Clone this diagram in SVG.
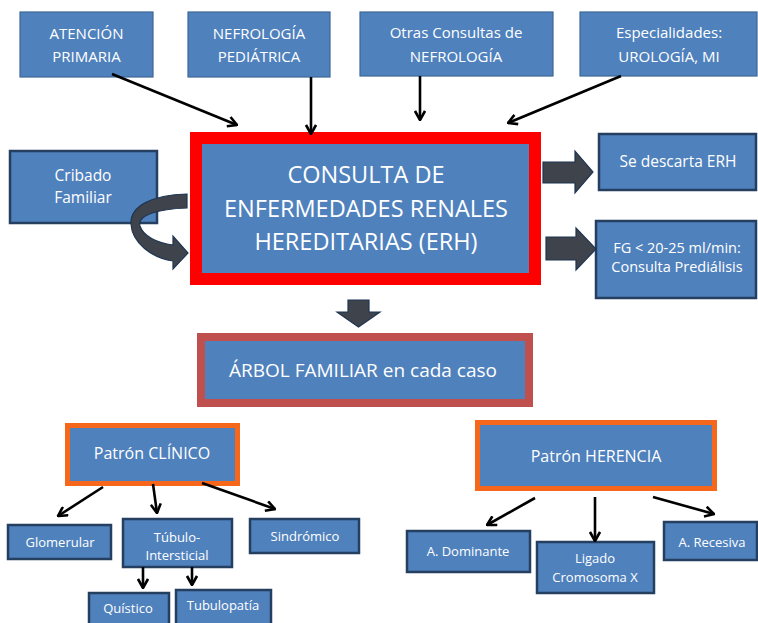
<svg xmlns="http://www.w3.org/2000/svg" width="758" height="623" viewBox="0 0 758 623">
<style>
.box{fill:#4f81bd;stroke:#3c6897;stroke-width:1.2}
.dbox{fill:#4f81bd;stroke:#243f60;stroke-width:2.5}
.t{font-family:"Open Sans","Noto Sans",sans-serif;fill:#ffffff;text-anchor:middle}
.ln{stroke:#000;stroke-width:2.6;fill:none;marker-end:url(#ah)}
.blk{fill:#3e434c;stroke:#1f3552;stroke-width:1.2}
</style>
<defs>
<marker id="ah" viewBox="0 0 12 12" refX="11" refY="6" markerWidth="12" markerHeight="12" orient="auto" markerUnits="userSpaceOnUse">
<path d="M2,1 L11,6 L2,11" fill="none" stroke="#000" stroke-width="2.6"/>
</marker>
</defs>
<rect width="758" height="623" fill="#fff"/>

<g id="n-atencion"><rect class="box" x="20" y="12" width="133" height="65"/>
<text class="t" font-size="15" x="86.5" y="39">ATENCIÓN</text><text class="t" font-size="15" x="86.5" y="62">PRIMARIA</text></g>
<g id="n-nefroped"><rect class="box" x="188" y="12" width="142" height="65"/>
<text class="t" font-size="15" x="259" y="39">NEFROLOGÍA</text><text class="t" font-size="15" x="259" y="62">PEDIÁTRICA</text></g>
<g id="n-otras"><rect class="box" x="360" y="12" width="193" height="64"/>
<text class="t" font-size="15" x="456" y="38">Otras Consultas de</text><text class="t" font-size="15" x="456" y="62">NEFROLOGÍA</text></g>
<g id="n-especialidades"><rect class="box" x="580" y="12" width="177" height="64"/>
<text class="t" font-size="15" x="669" y="38">Especialidades:</text><text class="t" font-size="15" x="669" y="62">UROLOGÍA, MI</text></g>

<g id="n-consulta"><rect x="196" y="138" width="339" height="141" fill="#4f81bd" stroke="#ff0000" stroke-width="12"/>
<text class="t" font-size="23.5" x="366" y="183">CONSULTA DE</text>
<text class="t" font-size="23.5" x="366" y="217">ENFERMEDADES RENALES</text>
<text class="t" font-size="23.5" x="366" y="250">HEREDITARIAS (ERH)</text></g>

<g id="n-cribado"><rect class="dbox" x="10" y="151" width="147" height="72"/>
<text class="t" font-size="15.5" x="83" y="181">Cribado</text><text class="t" font-size="15.5" x="83" y="203">Familiar</text></g>

<g id="n-descarta"><rect class="dbox" x="599" y="134" width="157" height="56"/>
<text class="t" font-size="15.5" x="678" y="167">Se descarta ERH</text></g>
<g id="n-prediálisis"><rect class="dbox" x="596" y="221" width="160" height="77"/>
<text class="t" font-size="14.5" x="677" y="253">FG &lt; 20-25 ml/min:</text><text class="t" font-size="14.5" x="677" y="272">Consulta Prediálisis</text></g>

<g id="n-arbol"><rect x="201" y="337" width="328" height="66" fill="#4f81bd" stroke="#c0504d" stroke-width="8"/>
<text class="t" font-size="19" x="363" y="377">ÁRBOL FAMILIAR en cada caso</text></g>

<g id="n-clinico"><rect x="67.5" y="425.5" width="170" height="58" fill="#4f81bd" stroke="#f6661b" stroke-width="5"/>
<text class="t" font-size="16" x="152" y="459">Patrón CLÍNICO</text></g>
<g id="n-herencia"><rect x="477.5" y="422.5" width="237" height="66" fill="#4f81bd" stroke="#f6661b" stroke-width="5"/>
<text class="t" font-size="16" x="596" y="462">Patrón HERENCIA</text></g>

<g id="n-glomerular"><rect class="dbox" x="8" y="525" width="103" height="34"/><text class="t" font-size="13" x="60" y="547">Glomerular</text></g>
<g id="n-tubulo"><rect class="dbox" x="123" y="519" width="109" height="48"/><text class="t" font-size="13" x="177" y="542">Túbulo-</text><text class="t" font-size="13" x="177" y="560">Intersticial</text></g>
<g id="n-sindromico"><rect class="dbox" x="250" y="519" width="109" height="34"/><text class="t" font-size="13" x="305" y="541">Sindrómico</text></g>
<g id="n-quistico"><rect class="dbox" x="89" y="593" width="80" height="40"/><text class="t" font-size="13" x="128" y="613">Quístico</text></g>
<g id="n-tubulopatia"><rect class="dbox" x="176" y="590" width="95" height="40"/><text class="t" font-size="13" x="223" y="610">Tubulopatía</text></g>
<g id="n-dominante"><rect class="dbox" x="407" y="531" width="123" height="41"/><text class="t" font-size="13" x="468" y="556">A. Dominante</text></g>
<g id="n-ligado"><rect class="dbox" x="537" y="542" width="117" height="51"/><text class="t" font-size="13" x="595" y="563">Ligado</text><text class="t" font-size="13" x="595" y="582">Cromosoma X</text></g>
<g id="n-recesiva"><rect class="dbox" x="664" y="522" width="93" height="38"/><text class="t" font-size="13" x="712" y="547">A. Recesiva</text></g>

<g id="connectors">
<line class="ln" x1="112" y1="74" x2="237" y2="125"/>
<line class="ln" x1="311" y1="77" x2="311" y2="134"/>
<line class="ln" x1="420" y1="76" x2="420" y2="120"/>
<line class="ln" x1="621" y1="76" x2="508" y2="123"/>
<line class="ln" x1="103" y1="487" x2="58" y2="516"/>
<line class="ln" x1="153" y1="484" x2="157" y2="513"/>
<line class="ln" x1="202" y1="483" x2="275" y2="509"/>
<line class="ln" x1="143" y1="567" x2="143" y2="588"/>
<line class="ln" x1="192" y1="567" x2="192" y2="585"/>
<line class="ln" x1="535" y1="498" x2="487" y2="525"/>
<line class="ln" x1="595" y1="497" x2="595" y2="541"/>
<line class="ln" x1="653" y1="497" x2="714" y2="514"/>
<path class="blk" d="M543,162 L575,162 L575,151 L593,172 L575,193 L575,183 L543,183 Z"/>
<path class="blk" d="M546,237 L576,237 L576,228 L596,249 L576,270 L576,260 L546,260 Z"/>
<path class="blk" d="M348,300 L369,300 L369,312 L380,312 L358.5,327 L337,312 L348,312 Z"/>
<path class="blk" d="M187,194 C152,195 130,206 131,224 C132,243 152,258 173,261 L173,269 L188,253 L173,236 L173,245 C157,243 143,236 140,226 C137,215 158,209 187,208 Z"/>
</g>
</svg>
